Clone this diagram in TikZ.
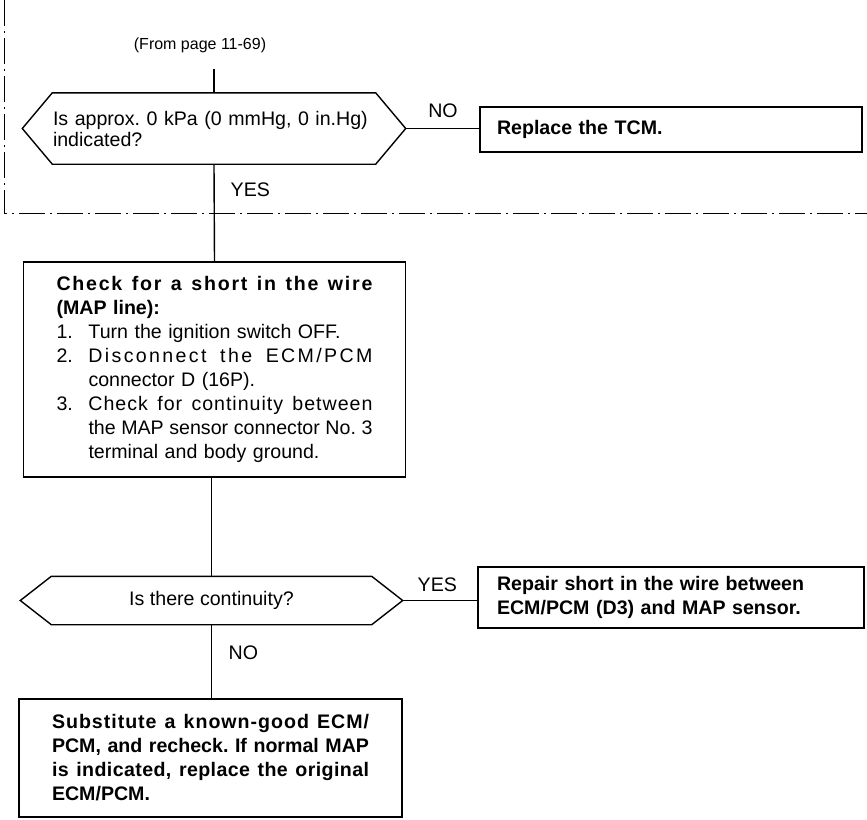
\documentclass[tikz,border=0pt]{standalone}
\usepackage{fontspec}
\setmainfont{Liberation Sans}
\usetikzlibrary{positioning}
\frenchspacing
\newcommand{\itm}[2]{\makebox[16pt][l]{#1}#2}
\newcommand{\spread}[3]{\makebox[#1][s]{\spaceskip=0.25em plus 1fil\addfontfeature{LetterSpace=#2}#3}}

\begin{document}
\begin{tikzpicture}[x=0.5pt, y=-0.5pt, line width=0.7pt,
    font=\fontsize{9.8}{12}\selectfont,
    box/.style={draw, inner ysep=0pt, align=left, font=\fontsize{9.8}{12}\selectfont\bfseries},
    ask/.style={inner sep=0pt, align=left},
    tag/.style={inner sep=0pt},
    border/.style={line width=0.5pt, dash pattern=on 13pt off 2.5pt on 1pt off 2.5pt}]
  \useasboundingbox (0,0) rectangle (867,819);
  % section border
  \draw[border] (4,0) -- (4,213) -- (867,213);
  % first question
  \node[tag, font=\fontsize{8}{10}\selectfont] (from) at (200,45) {(From page 11-69)};
  \node[ask, font=\fontsize{9.8}{10.5}\selectfont, text width=161pt, minimum height=35pt] (q1) at (214,128.5)
    {Is approx. 0 kPa (0 mmHg, 0 in.Hg)\\indicated?};
  \coordinate (q1w) at ([xshift=-15pt]q1.west);
  \coordinate (q1e) at ([xshift=15pt]q1.east);
  \draw (q1.north west) -- (q1.north east) -- (q1e) -- (q1.south east)
    -- (q1.south west) -- (q1w) -- cycle;
  \node[box, inner xsep=8.5pt, text width=174pt, minimum height=22.5pt] (tcm) at (671,129.5)
    {Replace the TCM.};
  \draw ([yshift=-8pt]from.south -| q1.north) -- (q1.north);
  \draw (q1e) -- (q1e -| tcm.west);
  \node[tag] at (443,111) {NO};
  % short check
  \node[box, font=\fontsize{9.8}{12}\selectfont, inner xsep=16.5pt, text width=158pt,
    minimum height=107.5pt] (chk) at (214.5,369.5) {%
    \textbf{\spread{158pt}{9}{Check for a short in the wire}}\\
    \textbf{(MAP line):}\\
    \itm{1.}{Turn the ignition switch OFF.}\\
    \itm{2.}{\spread{142pt}{12}{Disconnect the ECM/PCM}}\\
    \itm{}{connector D (16P).}\\
    \itm{3.}{\spread{142pt}{5}{Check for continuity between}}\\
    \itm{}{\spread{142pt}{0}{the MAP sensor connector No. 3}}\\
    \itm{}{terminal and body ground.}};
  \draw (q1.south) -- (chk.north);
  \node[tag, anchor=west] at (230,190) {YES};
  % second question
  \node[ask, align=center, minimum width=159.5pt, minimum height=23.5pt] (q2) at (211.5,600.5)
    {Is there continuity?};
  \coordinate (q2w) at ([xshift=-15.5pt]q2.west);
  \coordinate (q2e) at ([xshift=15.5pt]q2.east);
  \draw (q2.north west) -- (q2.north east) -- (q2e) -- (q2.south east)
    -- (q2.south west) -- (q2w) -- cycle;
  \draw (chk.south -| q2.north) -- (q2.north);
  \node[box, inner xsep=9.5pt, text width=174pt, minimum height=30.5pt] (fix) at (671,597.5)
    {Repair short in the wire between\\ECM/PCM (D3) and MAP sensor.};
  \draw (q2e) -- (q2e -| fix.west);
  \node[tag, anchor=west] at (417,585) {YES};
  % last step
  \node[box, inner xsep=16.5pt, text width=158.5pt, minimum height=59pt] (ecm) at (210.5,758) {%
    \spread{158.5pt}{5}{Substitute a known-good ECM/}\\
    \spread{158.5pt}{0}{PCM, and recheck. If normal MAP}\\
    \spread{158.5pt}{2}{is indicated, replace the original}\\
    ECM/PCM.};
  \draw (q2.south) -- (q2.south |- ecm.north);
  \node[tag, anchor=west] at (228,653) {NO};
\end{tikzpicture}
\end{document}
